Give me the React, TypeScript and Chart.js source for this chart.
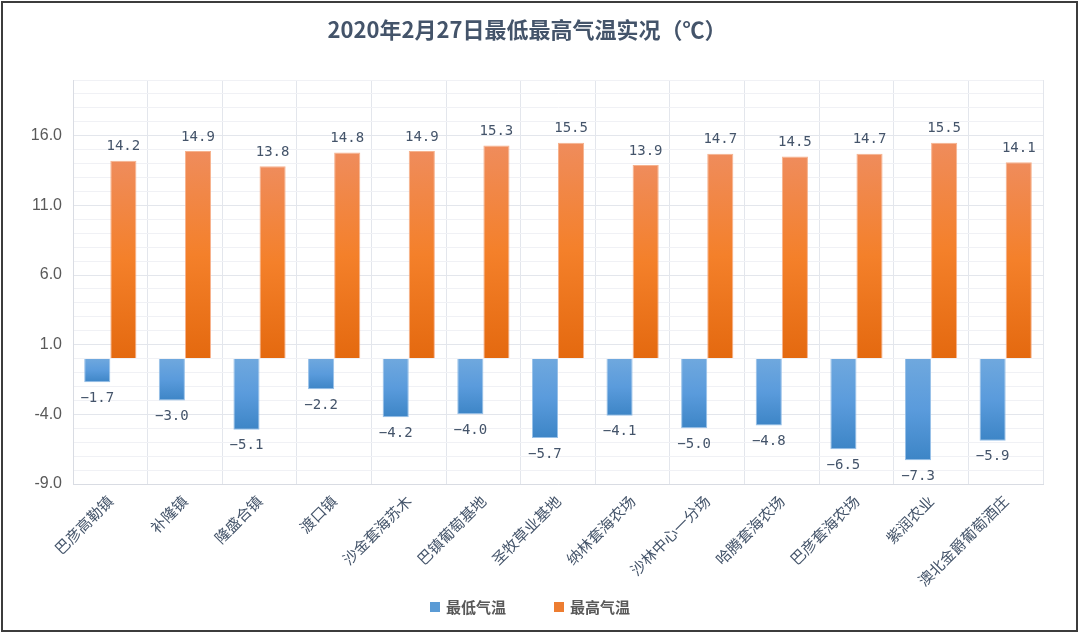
import React, { useEffect, useRef } from "react";
import { Chart, registerables } from "chart.js";

Chart.register(...registerables);

const TITLE = "2020年2月27日最低最高气温实况（℃）";
const categories = [
  "巴彦高勒镇",
  "补隆镇",
  "隆盛合镇",
  "渡口镇",
  "沙金套海苏木",
  "巴镇葡萄基地",
  "圣牧草业基地",
  "纳林套海农场",
  "沙林中心一分场",
  "哈腾套海农场",
  "巴彦套海农场",
  "紫润农业",
  "澳北金爵葡萄酒庄",
];
const minTemps = [-1.7, -3.0, -5.1, -2.2, -4.2, -4.0, -5.7, -4.1, -5.0, -4.8, -6.5, -7.3, -5.9];
const maxTemps = [14.2, 14.9, 13.8, 14.8, 14.9, 15.3, 15.5, 13.9, 14.7, 14.5, 14.7, 15.5, 14.1];
const Y_MIN = -9;
const Y_MAX = 20;
const MAJOR_STEP = 5;

const CJK = '"Noto Sans CJK SC", "Microsoft YaHei", sans-serif';

function gradientFor(stops: string[]) {
  return (ctx: any) => {
    const chart = ctx.chart;
    if (!chart.chartArea || ctx.type !== "data") return stops[stops.length - 1];
    const y = chart.scales.y;
    const v = ctx.raw as number;
    const y0 = y.getPixelForValue(0);
    const y1 = y.getPixelForValue(v);
    const g = chart.ctx.createLinearGradient(0, Math.min(y0, y1), 0, Math.max(y0, y1));
    stops.forEach((c, i) => g.addColorStop(i / (stops.length - 1), c));
    return g;
  };
}

const labelsPlugin = {
  id: "customDraw",
  afterDatasetsDraw(chart: any) {
    const ctx = chart.ctx;
    ctx.save();
    ctx.font = '14px "DejaVu Sans Mono", monospace';
    ctx.fillStyle = "#44546a";
    ctx.textAlign = "center";
    ctx.textBaseline = "middle";
    chart.data.datasets.forEach((ds: any, di: number) => {
      const meta = chart.getDatasetMeta(di);
      meta.data.forEach((bar: any, i: number) => {
        const v = ds.data[i] as number;
        const txt = v.toFixed(1).replace("-", "−");
        const yy = v >= 0 ? bar.y - 14 : bar.y + 16;
        ctx.fillText(txt, bar.x, yy);
      });
    });
    ctx.restore();
  },
  afterDraw(chart: any) {
    const ctx = chart.ctx;
    ctx.save();
    // title
    ctx.font = `bold 22px ${CJK}`;
    ctx.fillStyle = "#44546a";
    ctx.textAlign = "center";
    ctx.textBaseline = "middle";
    ctx.fillText(TITLE, 527, 30);
    // legend
    ctx.font = `bold 15px ${CJK}`;
    const items = chart.data.datasets.map((d: any) => ({ label: d.label, color: d.legendColor }));
    const box = 10;
    const gap = 6;
    const itemGap = 48;
    const widths = items.map((it: any) => box + gap + ctx.measureText(it.label).width);
    const total = widths.reduce((a: number, b: number) => a + b, 0) + itemGap * (items.length - 1);
    let x = 530 - total / 2;
    const cy = 607;
    items.forEach((it: any, i: number) => {
      ctx.fillStyle = it.color;
      ctx.fillRect(x, cy - box / 2, box, box);
      ctx.fillStyle = "#595959";
      ctx.textAlign = "left";
      ctx.fillText(it.label, x + box + gap, cy);
      x += widths[i] + itemGap;
    });
    ctx.restore();
  },
};

export default function App() {
  const canvasRef = useRef<HTMLCanvasElement | null>(null);

  useEffect(() => {
    document.body.style.margin = "0";
    const canvas = canvasRef.current!;
    const chart = new Chart(canvas, {
      type: "bar",
      data: {
        labels: categories,
        datasets: [
          {
            label: "最低气温",
            data: minTemps,
            backgroundColor: gradientFor(["#6fa8de", "#5a9bdc", "#3d85c6"]),
            borderColor: "rgba(140,185,230,0.9)",
            borderWidth: 1,
            legendColor: "#5b9bd5",
            barPercentage: 1,
            categoryPercentage: 0.7,
          } as any,
          {
            label: "最高气温",
            data: maxTemps,
            backgroundColor: gradientFor(["#ef8c5c", "#f4802a", "#e4690f"]),
            borderColor: "rgba(245,170,130,0.9)",
            borderWidth: 1,
            legendColor: "#ed7d31",
            barPercentage: 1,
            categoryPercentage: 0.7,
          } as any,
        ],
      },
      options: {
        animation: false,
        responsive: false,
        maintainAspectRatio: false,
        layout: { padding: { top: 80, right: 37, bottom: 0, left: 0 } },
        plugins: {
          legend: { display: false },
          title: { display: false },
          tooltip: { enabled: false },
        },
        scales: {
          x: {
            grid: { color: "#e3e6ec", drawTicks: false, offset: true },
            border: { color: "#d9dce3" },
            ticks: {
              color: "#44546a",
              font: { family: CJK, size: 15 },
              minRotation: 45,
              maxRotation: 45,
              padding: 8,
              autoSkip: false,
            },
            afterFit: (s: any) => {
              s.height = 150;
            },
          },
          y: {
            min: Y_MIN,
            max: Y_MAX,
            grid: {
              drawTicks: false,
              color: (c: any) =>
                (c.tick && (c.tick.value - Y_MIN) % MAJOR_STEP === 0) ? "#e3e6ec" : "#f0f1f5",
            },
            border: { color: "#d9dce3" },
            ticks: {
              stepSize: 1,
              autoSkip: false,
              color: "#595959",
              font: { family: '"Liberation Sans", Arial, sans-serif', size: 16 },
              padding: 11,
              callback: (v: any) =>
                ((Number(v) - Y_MIN) % MAJOR_STEP === 0 && Number(v) <= 16) ? Number(v).toFixed(1) : "",
            },
            afterFit: (s: any) => {
              s.width = 73;
            },
          },
        },
      },
      plugins: [labelsPlugin],
    } as any);
    return () => chart.destroy();
  }, []);

  return (
    <div style={{ position: "relative", width: 1080, height: 634, background: "#fff" }}>
      <canvas ref={canvasRef} width={1080} height={634} style={{ position: "absolute", left: 0, top: 0 }} />
      <div
        style={{
          position: "absolute",
          left: 1,
          top: 1,
          width: 1077,
          height: 631,
          boxSizing: "border-box",
          border: "2px solid #3c3c3c",
          pointerEvents: "none",
        }}
      />
    </div>
  );
}
